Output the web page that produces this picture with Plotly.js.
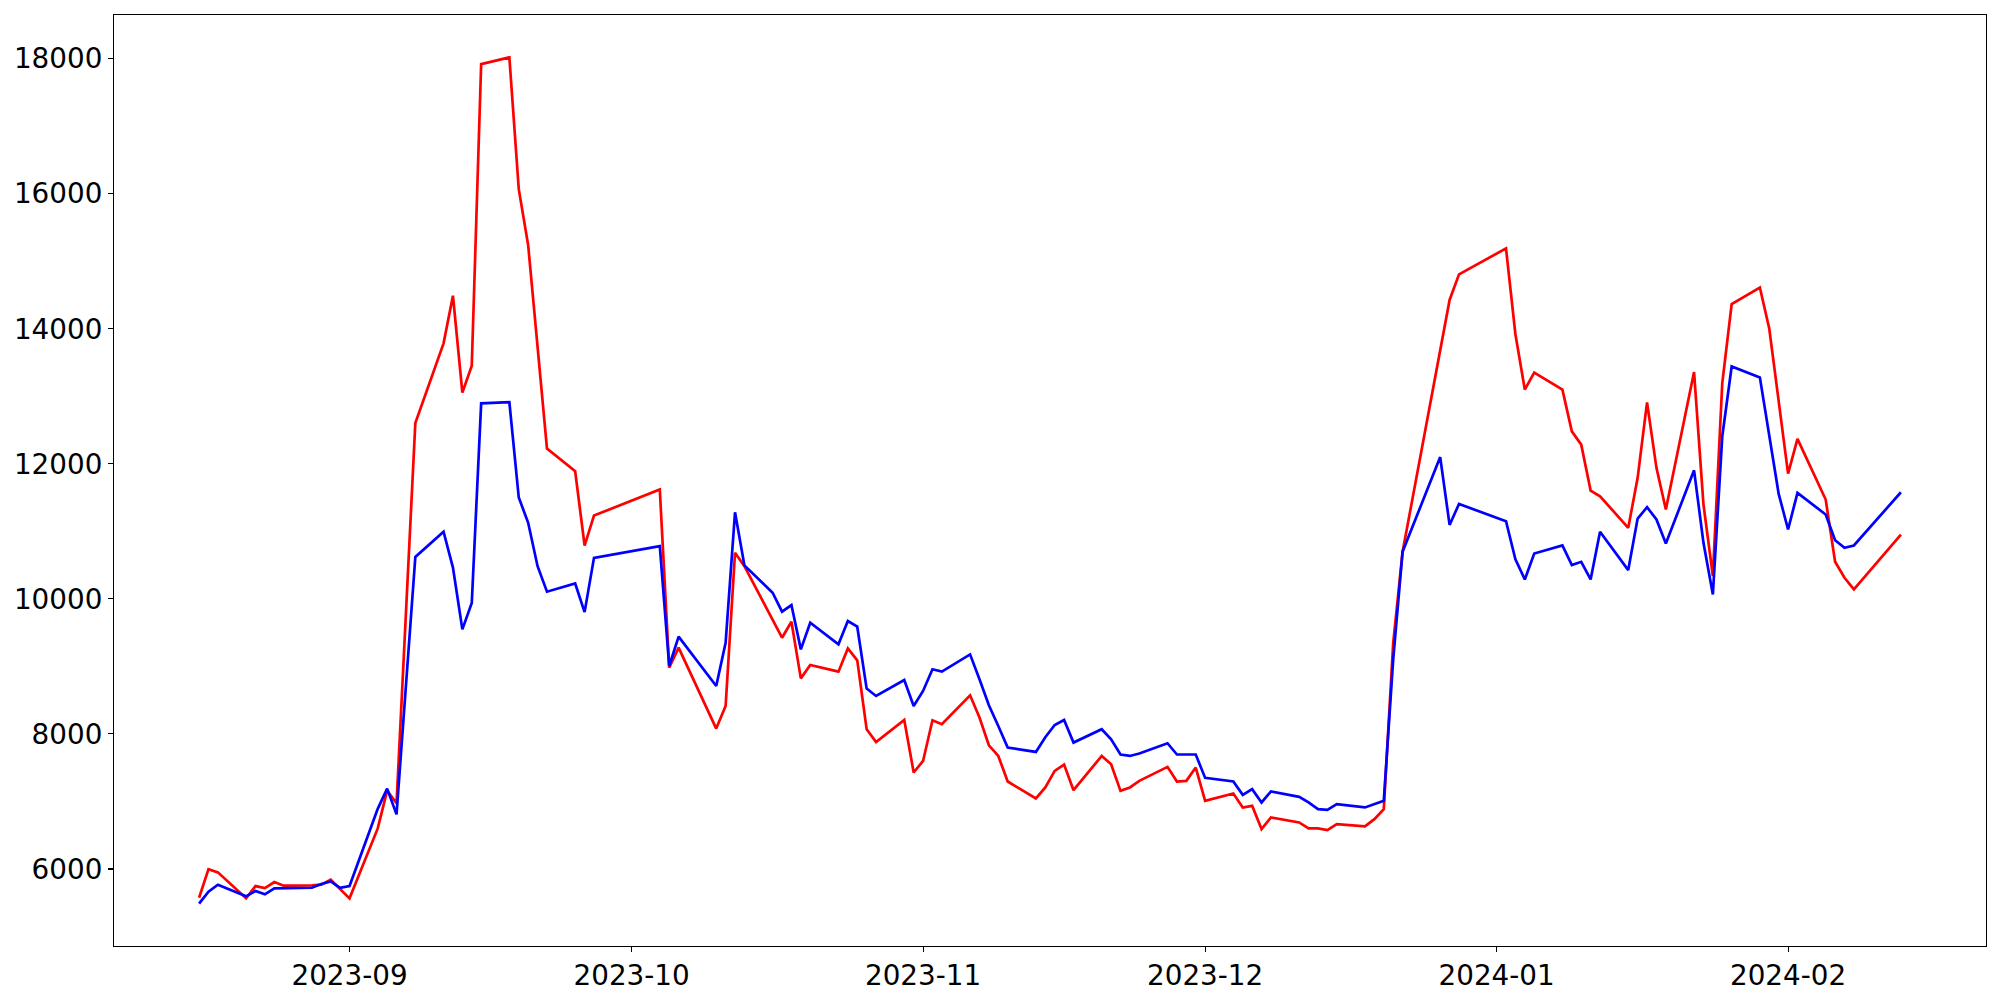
<!DOCTYPE html>
<html>
<head>
<meta charset="utf-8">
<script src="https://cdn.plot.ly/plotly-3.0.1.min.js"></script>
<style>html,body{margin:0;padding:0;background:#fff;}#chart{width:2000px;height:1000px;}</style>
</head>
<body>
<div id="chart"></div>
<script>
// ---- data ----
const redDates = [
"2023-08-16","2023-08-17","2023-08-18","2023-08-21","2023-08-22","2023-08-23","2023-08-24","2023-08-25",
"2023-08-28","2023-08-29","2023-08-30","2023-09-01","2023-09-04","2023-09-05","2023-09-06","2023-09-08",
"2023-09-11","2023-09-12","2023-09-13","2023-09-14","2023-09-15","2023-09-18","2023-09-19","2023-09-20",
"2023-09-22","2023-09-25","2023-09-26","2023-09-27","2023-10-04","2023-10-05","2023-10-06","2023-10-10",
"2023-10-11","2023-10-12","2023-10-13","2023-10-17","2023-10-18","2023-10-19","2023-10-20","2023-10-23",
"2023-10-24","2023-10-25","2023-10-26","2023-10-27","2023-10-30","2023-10-31","2023-11-01","2023-11-02",
"2023-11-03","2023-11-06","2023-11-07","2023-11-08","2023-11-09","2023-11-10","2023-11-13","2023-11-14",
"2023-11-15","2023-11-16","2023-11-17","2023-11-20","2023-11-21","2023-11-22","2023-11-23","2023-11-24",
"2023-11-27","2023-11-28","2023-11-29","2023-11-30","2023-12-01","2023-12-04","2023-12-05","2023-12-06",
"2023-12-07","2023-12-08","2023-12-11","2023-12-12","2023-12-13","2023-12-14","2023-12-15","2023-12-18",
"2023-12-19","2023-12-20","2023-12-21","2023-12-22","2023-12-27","2023-12-28","2024-01-02","2024-01-03",
"2024-01-04","2024-01-05","2024-01-08","2024-01-09","2024-01-10","2024-01-11","2024-01-12","2024-01-15",
"2024-01-16","2024-01-17","2024-01-18","2024-01-19","2024-01-22","2024-01-23","2024-01-24","2024-01-25",
"2024-01-26","2024-01-29","2024-01-30","2024-02-01","2024-02-02","2024-02-05","2024-02-06","2024-02-07",
"2024-02-08","2024-02-13"];
const redValues = [
5574,5998,5950,5565,5747,5718,5806,5752,
5757,5767,5841,5565,6601,7160,6974,12605,
13784,14490,13054,13452,17920,18020,16068,15238,
12225,11890,10790,11234,11619,8981,9277,8079,
8414,10683,10484,9425,9662,8823,9020,8922,
9267,9090,8069,7881,8207,7429,7600,8202,
8143,8572,8242,7832,7674,7295,7044,7207,
7453,7547,7167,7674,7551,7157,7207,7305,
7512,7295,7305,7502,7009,7118,6911,6935,
6590,6763,6689,6600,6600,6575,6664,6630,
6738,6886,9343,10699,14427,14806,15190,13919,
13100,13350,13098,12481,12284,11604,11520,11052,
11792,12910,11940,11323,13359,11400,10337,13197,
14365,14611,14000,11855,12369,11471,10549,10313,
10140,10953];

const blueDates = [
"2023-08-16","2023-08-17","2023-08-18","2023-08-21","2023-08-22","2023-08-23","2023-08-24","2023-08-25",
"2023-08-28","2023-08-29","2023-08-30","2023-08-31","2023-09-01","2023-09-04","2023-09-05","2023-09-06",
"2023-09-08","2023-09-11","2023-09-12","2023-09-13","2023-09-14","2023-09-15","2023-09-18","2023-09-19",
"2023-09-20","2023-09-21","2023-09-22","2023-09-25","2023-09-26","2023-09-27","2023-10-04","2023-10-05",
"2023-10-06","2023-10-10","2023-10-11","2023-10-12","2023-10-13","2023-10-16","2023-10-17","2023-10-18",
"2023-10-19","2023-10-20","2023-10-23","2023-10-24","2023-10-25","2023-10-26","2023-10-27","2023-10-30",
"2023-10-31","2023-11-01","2023-11-02","2023-11-03","2023-11-06","2023-11-07","2023-11-08","2023-11-09",
"2023-11-10","2023-11-13","2023-11-14","2023-11-15","2023-11-16","2023-11-17","2023-11-20","2023-11-21",
"2023-11-22","2023-11-23","2023-11-24","2023-11-27","2023-11-28","2023-11-29","2023-11-30","2023-12-01",
"2023-12-04","2023-12-05","2023-12-06","2023-12-07","2023-12-08","2023-12-11","2023-12-12","2023-12-13",
"2023-12-14","2023-12-15","2023-12-18","2023-12-20","2023-12-21","2023-12-22","2023-12-26","2023-12-27",
"2023-12-28","2024-01-02","2024-01-03","2024-01-04","2024-01-05","2024-01-08","2024-01-09","2024-01-10",
"2024-01-11","2024-01-12","2024-01-15","2024-01-16","2024-01-17","2024-01-18","2024-01-19","2024-01-22",
"2024-01-23","2024-01-24","2024-01-25","2024-01-26","2024-01-29","2024-01-31","2024-02-01","2024-02-02",
"2024-02-05","2024-02-06","2024-02-07","2024-02-08","2024-02-13"];
const blueValues = [
5486,5663,5767,5595,5673,5624,5713,5713,
5722,5777,5816,5722,5747,6891,7190,6809,
10620,10994,10463,9549,9939,12896,12912,11501,
11127,10484,10106,10228,9804,10608,10780,9006,
9440,8710,9351,11283,10495,10091,9810,9908,
9252,9647,9326,9671,9588,8671,8562,8798,
8414,8636,8957,8922,9178,8809,8424,8118,
7798,7733,7950,8133,8207,7872,8069,7921,
7695,7674,7710,7862,7695,7695,7695,7349,
7295,7098,7182,6985,7148,7068,6985,6886,
6876,6960,6911,7009,9100,10699,12100,11095,
11405,11151,10586,10287,10671,10791,10500,10549,
10288,10993,10426,11190,11357,11175,10820,11904,
10830,10066,12407,13442,13280,11555,11027,11570,
11249,10869,10756,10791,11579];

const xTickVals = ["2023-09-01","2023-10-01","2023-11-01","2023-12-01","2024-01-01","2024-02-01"];
const xTickText = ["2023-09","2023-10","2023-11","2023-12","2024-01","2024-02"];
const yTickVals = [6000, 8000, 10000, 12000, 14000, 16000, 18000];
const yTickText = ["6000","8000","10000","12000","14000","16000","18000"];

// ---- axis ranges with 5% margins (as matplotlib autoscale) ----
function ms(d){ return Date.parse(d + "T00:00:00Z"); }
function fmt(t){ return new Date(t).toISOString().replace("T"," ").replace("Z",""); }
const allT = redDates.concat(blueDates).map(ms);
const tMin = Math.min.apply(null, allT), tMax = Math.max.apply(null, allT);
const tPad = (tMax - tMin) * 0.05;
const allV = redValues.concat(blueValues);
const vMin = Math.min.apply(null, allV), vMax = Math.max.apply(null, allV);
const vPad = (vMax - vMin) * 0.05;

const FONT = {family: "DejaVu Sans, sans-serif", size: 27.8, color: "#000"};

const traces = [
  {x: redDates, y: redValues, type: "scatter", mode: "lines",
   line: {color: "#ff0000", width: 2.7}, hoverinfo: "skip"},
  {x: blueDates, y: blueValues, type: "scatter", mode: "lines",
   line: {color: "#0000ff", width: 2.7}, hoverinfo: "skip"}
];

const axisCommon = {
  showgrid: false, zeroline: false, showline: true, mirror: true,
  linecolor: "#000", linewidth: 1.1, ticks: "outside", ticklen: 5,
  tickwidth: 1.1, tickcolor: "#000", tickfont: FONT
};

const layout = {
  width: 2000, height: 1000,
  margin: {l: 114, r: 14, t: 15, b: 54},
  paper_bgcolor: "#fff", plot_bgcolor: "#fff",
  showlegend: false,
  font: FONT,
  xaxis: Object.assign({}, axisCommon, {
    type: "date", range: [fmt(tMin - tPad), fmt(tMax + tPad)],
    tickmode: "array", tickvals: xTickVals, ticktext: xTickText
  }),
  yaxis: Object.assign({}, axisCommon, {
    range: [vMin - vPad, vMax + vPad],
    tickmode: "array", tickvals: yTickVals, ticktext: yTickText
  })
};

Plotly.newPlot("chart", traces, layout, {staticPlot: true, displayModeBar: false});
</script>
</body>
</html>
